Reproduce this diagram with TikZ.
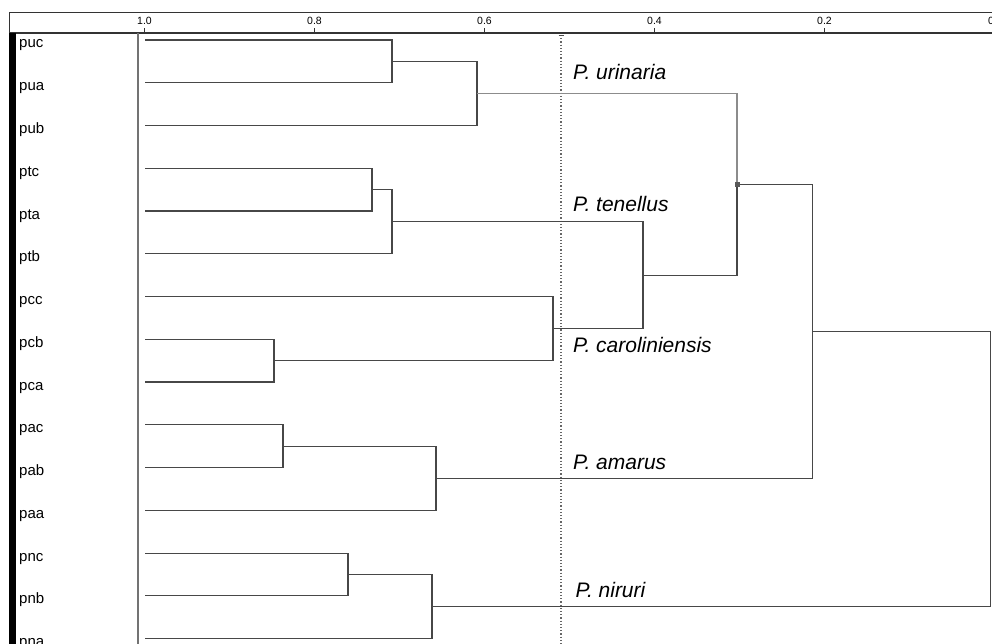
\documentclass[tikz,border=0pt]{standalone}
\usepackage{fontspec}
\setmainfont{Liberation Sans}
\usetikzlibrary{calc}

\tikzset{
  leaf/.style={anchor=base west, inner sep=0pt, font=\fontsize{15}{15}\selectfont},
  clade/.style={anchor=base west, inner sep=0pt, font=\fontsize{21}{21}\selectfont\itshape},
  scalelbl/.style={inner sep=0pt, font=\fontsize{10.5}{10.5}\selectfont},
  branch/.style={draw=black!72, line width=1.2pt},
}

\begin{document}
\begin{tikzpicture}[x=1pt, y=-1pt]
    \useasboundingbox (0,0) rectangle (992,644);

    % scale bar
    \draw[black!80, line width=1.2pt] (9,12.5) -- (992,12.5);
    \draw[black!80, line width=1.2pt] (9,33) -- (992,33);
    \draw[black!80, line width=1pt] (9,12.5) -- (9,33);
    \node[scalelbl] (s10) at (144.5,20.5) {1.0};
    \node[scalelbl] (s08) at (314.5,20.5) {0.8};
    \node[scalelbl] (s06) at (484.5,20.5) {0.6};
    \node[scalelbl] (s04) at (654.5,20.5) {0.4};
    \node[scalelbl] (s02) at (824.5,20.5) {0.2};
    \node[scalelbl] (s00) at (991,20.5) {0};
    \foreach \tx in {144.5,314.5,484.5,654.5,824.5}
      \draw[black!80, line width=0.8pt] (\tx,28.5) -- (\tx,33);

    \fill[black] (9,33) rectangle (16,644);
    \draw[black!55, line width=1.4pt] (138,33) -- (138,644);

    % cut-off
    \draw[black!60, line width=1.2pt, dotted] (561,35) -- (561,644);
    \draw[black!70, line width=0.8pt] (558.5,35.5) -- (563.5,35.5);

    % leaves
    \coordinate (puc) at (145,40);
      \node[leaf] (l-puc) at (19,48) {puc};
    \coordinate (pua) at (145,82.76);
      \node[leaf] (l-pua) at (19,90.76) {pua};
    \coordinate (pub) at (145,125.52);
      \node[leaf] (l-pub) at (19,133.52) {pub};
    \coordinate (ptc) at (145,168.28);
      \node[leaf] (l-ptc) at (19,176.28) {ptc};
    \coordinate (pta) at (145,211.04);
      \node[leaf] (l-pta) at (19,219.04) {pta};
    \coordinate (ptb) at (145,253.8);
      \node[leaf] (l-ptb) at (19,261.8) {ptb};
    \coordinate (pcc) at (145,296.56);
      \node[leaf] (l-pcc) at (19,304.56) {pcc};
    \coordinate (pcb) at (145,339.32);
      \node[leaf] (l-pcb) at (19,347.32) {pcb};
    \coordinate (pca) at (145,382.08);
      \node[leaf] (l-pca) at (19,390.08) {pca};
    \coordinate (pac) at (145,424.84);
      \node[leaf] (l-pac) at (19,432.84) {pac};
    \coordinate (pab) at (145,467.6);
      \node[leaf] (l-pab) at (19,475.6) {pab};
    \coordinate (paa) at (145,510.36);
      \node[leaf] (l-paa) at (19,518.36) {paa};
    \coordinate (pnc) at (145,553.12);
      \node[leaf] (l-pnc) at (19,561.12) {pnc};
    \coordinate (pnb) at (145,595.88);
      \node[leaf] (l-pnb) at (19,603.88) {pnb};
    \coordinate (pna) at (145,638.64);
      \node[leaf] (l-pna) at (19,646.64) {pna};

    % joins
    \coordinate (uAB) at (392,61.4);
      \draw[branch] (puc) -| (uAB) |- (pua);
    \coordinate (uall) at (477,93.5);
      \draw[branch] (uAB) -| (uall) |- (pub);

    \coordinate (tCA) at (372,189.7);
      \draw[branch] (ptc) -| (tCA) |- (pta);
    \coordinate (tall) at (392,221.7);
      \draw[branch] (tCA) -| (tall) |- (ptb);

    \coordinate (cBA) at (274,360.7);
      \draw[branch] (pcb) -| (cBA) |- (pca);
    \coordinate (call) at (553,328.6);
      \draw[branch] (pcc) -| (call) |- (cBA);

    \coordinate (tc) at (643,275.2);
      \draw[branch] (tall) -| (tc) |- (call);

    \coordinate (utc) at (737,184.3);
      \draw[branch] (tc) -| (utc);
      \draw[draw=black!45, line width=1.2pt] (uall) -| (utc);

    \coordinate (aCB) at (283,446.2);
      \draw[branch] (pac) -| (aCB) |- (pab);
    \coordinate (aall) at (436,478.3);
      \draw[branch] (aCB) -| (aall) |- (paa);

    \coordinate (utca) at (812.5,331.3);
      \draw[branch] (utc) -| (utca) |- (aall);

    \coordinate (nCB) at (348,574.5);
      \draw[branch] (pnc) -| (nCB) |- (pnb);
    \coordinate (nall) at (432,606.6);
      \draw[branch] (nCB) -| (nall) |- (pna);

    \coordinate (root) at (990.5,469);
      \draw[branch] (utca) -| (root) |- (nall);

    \fill[black!65] ($(utc)+(-2.5,-2.5)$) rectangle ($(utc)+(2.5,2.5)$);

    % species
    \node[clade] (urin) at (573,80) {P. urinaria};
    \node[clade] (tene) at (573,212) {P. tenellus};
    \node[clade] (caro) at (573,352) {P. caroliniensis};
    \node[clade] (amar) at (573,469) {P. amarus};
    \node[clade] (niru) at (575.5,597) {P. niruri};
\end{tikzpicture}
\end{document}
